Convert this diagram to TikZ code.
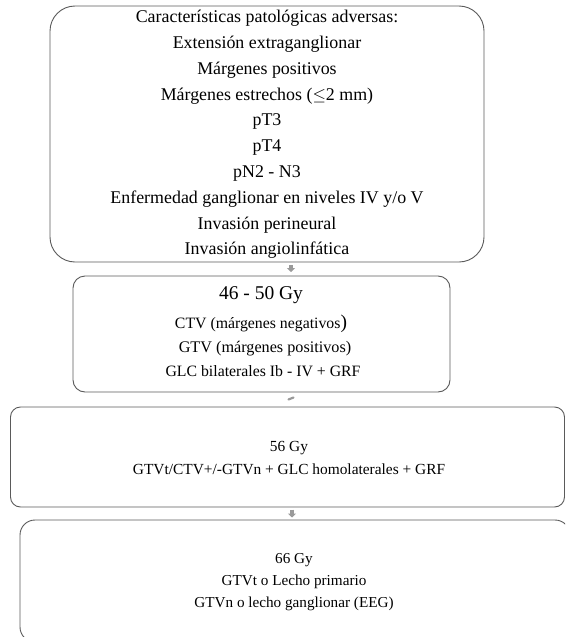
\documentclass[tikz,border=0pt]{standalone}
\usepackage{fontspec}
\setmainfont{Liberation Serif}
\usetikzlibrary{arrows.meta,calc}
\definecolor{edge}{HTML}{5A5A5A}
\definecolor{arrowgray}{HTML}{9A9A9A}
\tikzset{
  box/.style={draw=edge, line width=0.9pt, inner sep=0pt, outer sep=0pt, fill=white},
  txt/.style={inner sep=0pt, text=black, align=center},
  arr/.style={arrowgray, line width=3.5pt, -{Triangle[width=8pt,length=4pt]}},
}
\begin{document}
\begin{tikzpicture}[x=1pt,y=-1pt]
\useasboundingbox (0,0) rectangle (565,637);
\begin{scope}
\clip (0,0) rectangle (565,637);
% boxes
\node[box, rounded corners=25pt, minimum width=434pt, minimum height=256pt] (b1) at (267,134) {};
\node[box, rounded corners=12pt, minimum width=377pt, minimum height=116pt] (b2) at (261.5,334) {};
\node[box, rounded corners=10pt, minimum width=554pt, minimum height=100pt] (b3) at (287.5,457) {};
\node[box, rounded corners=15pt, minimum width=550pt, minimum height=122pt] (b4) at (295,581) {};
% texts
\node[txt, font=\fontsize{17.9}{25.8}\selectfont] (t1) at (267,134.5) {Características patológicas adversas:\\Extensión extraganglionar\\Márgenes positivos\\Márgenes estrechos ($\leq$2 mm)\\pT3\\pT4\\pN2 - N3\\Enfermedad ganglionar en niveles IV y/o V\\Invasión perineural\\Invasión angiolinfática};
\node[txt, font=\fontsize{19.5}{22}\selectfont] (t2a) at (261,295) {46 - 50 Gy};
\node[txt, font=\fontsize{15.8}{17}\selectfont] (t2b) at (261,324) {CTV (márgenes negativos{\fontsize{19.5}{20}\selectfont)}};
\node[txt, font=\fontsize{16.2}{17}\selectfont] (t2c) at (265,349) {GTV (márgenes positivos)};
\node[txt, font=\fontsize{15.8}{17}\selectfont] (t2d) at (263,371) {GLC bilaterales Ib - IV + GRF};
\node[txt, font=\fontsize{15.4}{22.5}\selectfont] (t3) at (289,458) {56 Gy\\GTVt/CTV+/-GTVn + GLC homolaterales + GRF};
\node[txt, font=\fontsize{15.2}{22.3}\selectfont] (t4) at (294,582) {66 Gy\\GTVt o Lecho primario\\GTVn o lecho ganglionar (EEG)};
% connectors
\coordinate (ax1) at (291,0);
\coordinate (ax3) at (292,0);
\coordinate (c2s) at (288.5,399.5);
\coordinate (c2e) at (293.5,397.5);
\draw[arr, shorten <=3pt, shorten >=4pt] (b1.south -| ax1) -- (b2.north -| ax1);
\draw[arrowgray, line width=2.2pt, line cap=round] (c2s) -- (c2e);
\draw[arr, shorten <=2.5pt, shorten >=2.5pt] (b3.south -| ax3) -- (b4.north -| ax3);
\end{scope}
\end{tikzpicture}
\end{document}
